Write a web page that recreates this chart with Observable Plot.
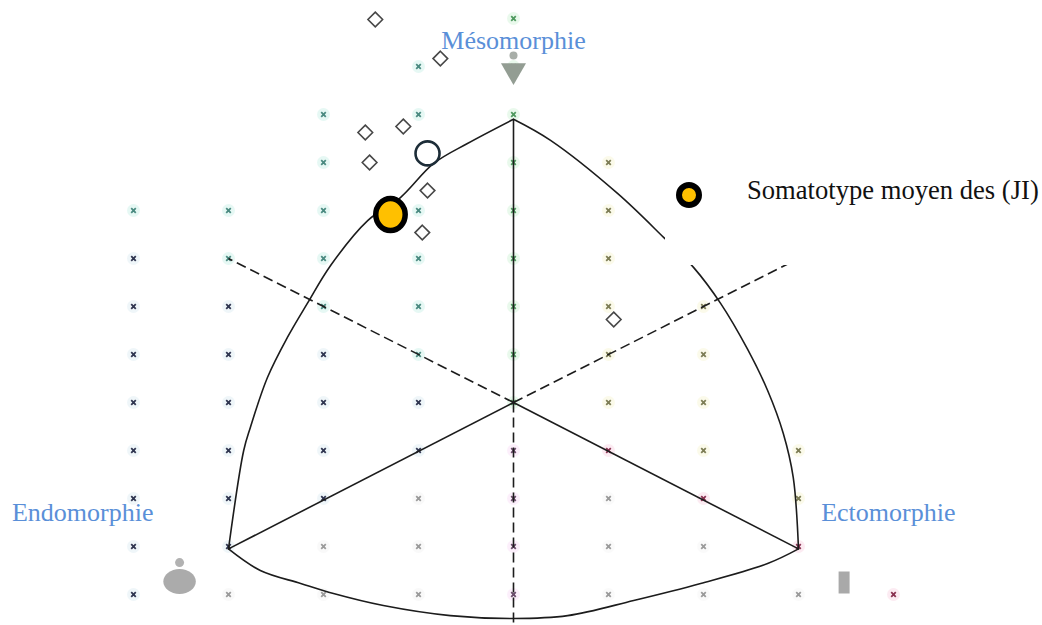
<!DOCTYPE html>
<html>
<head>
<meta charset="utf-8">
<script src="https://cdn.jsdelivr.net/npm/d3@7"></script>
<script src="https://cdn.jsdelivr.net/npm/@observablehq/plot@0.6"></script>
<style>
  html, body { margin: 0; padding: 0; background: #fff; }
  #wrap { position: relative; width: 1042px; height: 625px; overflow: hidden; }
  #legend {
    position: absolute; left: 665px; top: 160px; width: 377px; height: 105px;
    background: #fff;
  }
  #legend svg { position: absolute; left: 10px; top: 21px; }
  #legend span {
    position: absolute; left: 82px; top: 15px;
    font-family: "Liberation Serif", "Times New Roman", serif; font-size: 26.6px; color: #111;
    white-space: nowrap;
  }
</style>
</head>
<body>
<div id="wrap">
  <div id="chart"></div>
  <div id="legend">
    <svg width="30" height="30"><circle cx="14" cy="14" r="10" fill="#FFC000" stroke="#000" stroke-width="6"/></svg>
    <span>Somatotype moyen des (JI)</span>
  </div>
</div>
<script>
// Somatochart coordinates: X = ecto − endo, Y = 2·meso − (endo + ecto)

// Reference grid of the somatochart (rows of Y with their X positions)
const gridRows = [
  {y: 16, xs: [0]},
  {y: 14, xs: [-2, 0]},
  {y: 12, xs: [-4, -2, 0]},
  {y: 10, xs: [-4, 0, 2]},
  {y: 8,  xs: [-8, -6, -4, -2, 0, 2]},
  {y: 6,  xs: [-8, -6, -4, -2, 0, 2]},
  {y: 4,  xs: [-8, -6, -4, -2, 0, 2, 4]},
  {y: 2,  xs: [-8, -6, -4, -2, 0, 2, 4]},
  {y: 0,  xs: [-8, -6, -4, -2, 0, 2, 4]},
  {y: -2, xs: [-8, -6, -4, -2, 0, 2, 4, 6]},
  {y: -4, xs: [-8, -6, -4, -2, 0, 2, 4, 6]},
  {y: -6, xs: [-8, -6, -4, -2, 0, 2, 4, 6]},
  {y: -8, xs: [-8, -6, -4, -2, 0, 2, 4, 6, 8]}
];

// Vertices of the somatochart triangle
const vertices = {
  center: {x: 0, y: 0},
  meso: {x: 0, y: 11.8},
  endo: {x: -6, y: -6.1},
  ecto: {x: 6, y: -6.1}
};

// Ends of the dashed bisectors
const dashEnds = [
  {x: -6, y: 6},
  {x: 6, y: 6},
  {x: 0, y: -9.3}
];

// Curved outline: endo → meso, meso → ecto, endo → ecto
const arcEndoMeso = [
  [-6, -6.1], [-5.68, -2.0], [-5.54, -1.04], [-5.18, 1.04], [-4.76, 2.71], [-4.34, 4.13],
  [-3.85, 5.71], [-3.07, 7.58], [-2.38, 8.54], [-1.68, 9.96], [-0.97, 10.79], [0, 11.8]
];
const arcMesoEcto = [
  [0, 11.8], [0.78, 10.92], [2.19, 8.71], [3.16, 6.88], [3.79, 5.63], [4.36, 4.13],
  [4.93, 2.21], [5.35, 0.5], [5.68, -1.29], [5.89, -3.13], [6, -6.1]
];
const arcEndoEcto = [
  [-6, -6.1], [-5.33, -7.0], [-4.48, -7.54], [-3.79, -7.96], [-2.74, -8.46], [-1.33, -8.88],
  [0, -9.0], [1.14, -8.88], [2.53, -8.25], [3.94, -7.54], [5.35, -6.71], [6, -6.1]
];

// Individual somatotypes
const individuals = [
  {x: -2.91, y: 15.96},
  {x: -1.54, y: 14.33},
  {x: -3.12, y: 11.25},
  {x: -2.32, y: 11.5},
  {x: -3.03, y: 10.0},
  {x: -1.81, y: 8.83},
  {x: -1.92, y: 7.08},
  {x: 2.11, y: 3.46}
];
const referencePoint = [{x: -1.81, y: 10.38}];
const meanSomatotype = [{x: -2.59, y: 7.83, label: "Somatotype moyen des (JI)"}];

// Axis names
const poleLabels = [
  {x: 0, y: 15.08, text: "Mésomorphie"},
  {x: -9.07, y: -4.58, text: "Endomorphie"},
  {x: 7.89, y: -4.58, text: "Ectomorphie"}
];

// Body-type pictograms at each pole
const mesoHead = [{x: 0, y: 14.46}];
const mesoBody = [{x: 0, y: 13.83}];
const endoHead = [{x: -7.03, y: -6.67}];
const endoBody = [{x: -7.03, y: -7.46}];
const ectoBody = [{x: 6.96, y: -7.5}];

// ---- helpers ----
const gridPoints = gridRows.flatMap(r => r.xs.map(x => ({x, y: r.y})));

function gridTone(p) {
  const {x, y} = p;
  if (x === 0) return y >= 0 ? ["#4f9a5f", "#9be3a8"] : ["#6a4a6a", "#f0b4ec"];
  if (x < 0) {
    if (x + y >= 0) return ["#4a8a80", "#8fe0cc"];
    if (y >= x) return ["#2f3550", "#b8d4e4"];
    return ["#9a9a9a", "#e4e4e4"];
  }
  if (y > -x) return ["#7d7d55", "#efeaa0"];
  if (y === -x) return ["#8a3050", "#f2a6c4"];
  return ["#9a9a9a", "#e6e6e6"];
}

function ellipseSymbol(kx, ky) {
  return {
    draw(ctx, size) {
      const r = Math.sqrt(size / Math.PI), rx = r * kx, ry = r * ky, k = 0.5523;
      ctx.moveTo(rx, 0);
      ctx.bezierCurveTo(rx, ry * k, rx * k, ry, 0, ry);
      ctx.bezierCurveTo(-rx * k, ry, -rx, ry * k, -rx, 0);
      ctx.bezierCurveTo(-rx, -ry * k, -rx * k, -ry, 0, -ry);
      ctx.bezierCurveTo(rx * k, -ry, rx, -ry * k, rx, 0);
      ctx.closePath();
    }
  };
}
const barSymbol = {
  draw(ctx, size) {
    const r = Math.sqrt(size / Math.PI);
    ctx.rect(-r / 2, -r, r, 2 * r);
  }
};

const c = vertices.center;
const solidSpokes = [vertices.meso, vertices.endo, vertices.ecto].map(v => ({x1: c.x, y1: c.y, x2: v.x, y2: v.y}));
const dashedSpokes = dashEnds.map(v => ({x1: c.x, y1: c.y, x2: v.x, y2: v.y}));
const lineColor = "#1c1c1c";
const serif = "Liberation Serif, Times New Roman, serif";

const chart = Plot.plot({
  width: 1042,
  height: 625,
  marginLeft: 133,
  marginRight: 149,
  marginTop: 18,
  marginBottom: 31,
  x: {domain: [-8, 8], axis: null},
  y: {domain: [-8, 16], axis: null},
  style: {background: "#fff", overflow: "visible"},
  marks: [
    // grid markers with their soft colored halo
    Plot.dot(gridPoints, {x: "x", y: "y", r: 6.5, fill: d => gridTone(d)[1], fillOpacity: 0.22, stroke: "none"}),
    Plot.dot(gridPoints, {x: "x", y: "y", r: 2.2, symbol: "times", stroke: d => gridTone(d)[0], strokeWidth: 1.8}),
    // triangle spokes and bisectors
    Plot.link(solidSpokes, {x1: "x1", y1: "y1", x2: "x2", y2: "y2", stroke: lineColor, strokeWidth: 1.6}),
    Plot.link(dashedSpokes, {x1: "x1", y1: "y1", x2: "x2", y2: "y2", stroke: lineColor, strokeWidth: 1.6, strokeDasharray: "10,5"}),
    // curved outline
    Plot.line(arcEndoMeso, {x: d => d[0], y: d => d[1], curve: "catmull-rom", stroke: lineColor, strokeWidth: 1.6}),
    Plot.line(arcMesoEcto, {x: d => d[0], y: d => d[1], curve: "catmull-rom", stroke: lineColor, strokeWidth: 1.6}),
    Plot.line(arcEndoEcto, {x: d => d[0], y: d => d[1], curve: "catmull-rom", stroke: lineColor, strokeWidth: 1.6}),
    // pictograms
    Plot.dot(mesoHead, {x: "x", y: "y", r: 4, fill: "#a8aea8"}),
    Plot.dot(mesoBody, {x: "x", y: "y", r: 9.3, symbol: "triangle", rotate: 180, fill: "#939d93"}),
    Plot.dot(endoHead, {x: "x", y: "y", r: 4.5, fill: "#b2b2b2"}),
    Plot.dot(endoBody, {x: "x", y: "y", r: 12.5, symbol: ellipseSymbol(1.3, 1), fill: "#ababab"}),
    Plot.dot(ectoBody, {x: "x", y: "y", r: 11, symbol: barSymbol, fill: "#a9a9a9"}),
    // somatotypes
    Plot.dot(individuals, {x: "x", y: "y", r: 6.6, symbol: "diamond2", stroke: "#474747", strokeWidth: 1.6, fill: "none"}),
    Plot.dot(referencePoint, {x: "x", y: "y", r: 12, stroke: "#1d2d38", strokeWidth: 2.6, fill: "none"}),
    Plot.dot(meanSomatotype, {x: "x", y: "y", r: 16, symbol: ellipseSymbol(0.92, 1), fill: "#FFC000", stroke: "#000", strokeWidth: 5.5}),
    // pole names
    Plot.text(poleLabels, {x: "x", y: "y", text: "text", fontSize: 26, fontFamily: serif, fill: "#5a8fd8"})
  ]
});
document.getElementById("chart").append(chart);
</script>
</body>
</html>
